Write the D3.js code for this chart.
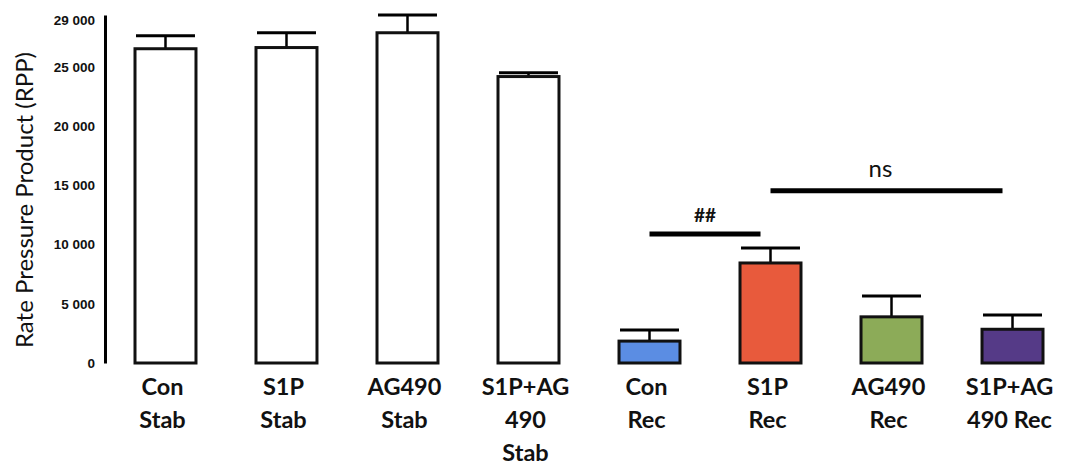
<!DOCTYPE html>
<html>
<head>
<meta charset="utf-8">
<script src="https://cdn.jsdelivr.net/npm/d3@7"></script>
<style>
  body { margin: 0; background: #fff; }
  svg { display: block; font-family: Lato, "Open Sans", sans-serif; }
  .tick text { font-weight: bold; font-size: 13.5px; fill: #111; }
  .cat { font-weight: bold; font-size: 23.5px; fill: #111; }
</style>
</head>
<body>
<div id="chart"></div>
<script>
// Data
const categories = ["Con Stab", "S1P Stab", "AG490 Stab", "S1P+AG490 Stab",
                    "Con Rec", "S1P Rec", "AG490 Rec", "S1P+AG490 Rec"];
const catLabels = [["Con", "Stab"], ["S1P", "Stab"], ["AG490", "Stab"], ["S1P+AG", "490", "Stab"],
                   ["Con", "Rec"], ["S1P", "Rec"], ["AG490", "Rec"], ["S1P+AG", "490 Rec"]];
const means = [26550, 26650, 27900, 24200, 1850, 8450, 3900, 2850];
const errors = [1100, 1250, 1500, 330, 930, 1270, 1770, 1200];
const colors = ["#fff", "#fff", "#fff", "#fff", "#5b8de3", "#e85a3c", "#8cab58", "#553a87"];
const tickValues = [0, 5000, 10000, 15000, 20000, 25000, 29000];
const brackets = [
    {from: "Con Rec", to: "S1P Rec", y: 10900, label: "##"},
    {from: "S1P Rec", to: "S1P+AG490 Rec", y: 14550, label: "ns"}
];

const width = 1069, height = 466;
const margin = {top: 15, right: 26, bottom: 103, left: 105};

const svg = d3.select("#chart")
    .append("svg")
    .attr("width", width)
    .attr("height", height);

const x = d3.scaleBand()
    .domain(categories)
    .range([135, 1043])
    .paddingInner(0.496)
    .paddingOuter(0);

const y = d3.scaleLinear()
    .domain([0, 29400])
    .range([height - margin.bottom, margin.top]);

// y axis
const yAxis = d3.axisLeft(y)
    .tickValues(tickValues)
    .tickSize(0)
    .tickPadding(10)
    .tickFormat(d => d3.format(",")(d).replace(/,/g, " "));

const gy = svg.append("g")
    .attr("transform", "translate(" + margin.left + ",0)")
    .call(yAxis);
gy.select(".domain").attr("stroke", "#000").attr("stroke-width", 3);

svg.append("text")
    .attr("transform", "translate(33," + 200 + ") rotate(-90)")
    .attr("text-anchor", "middle")
    .attr("font-size", "24px")
    .attr("fill", "#111")
    .text("Rate Pressure Product (RPP)");

// error bars (drawn first, bar covers the stem)
const eb = svg.append("g").selectAll("g")
    .data(categories)
    .enter()
    .append("g");

eb.append("line")
    .attr("x1", d => x(d) + x.bandwidth() / 2)
    .attr("x2", d => x(d) + x.bandwidth() / 2)
    .attr("y1", (d, i) => y(means[i]))
    .attr("y2", (d, i) => y(means[i] + errors[i]))
    .attr("stroke", "#000")
    .attr("stroke-width", 2.5);

eb.append("line")
    .attr("x1", d => x(d) + 1)
    .attr("x2", d => x(d) + x.bandwidth() - 1)
    .attr("y1", (d, i) => y(means[i] + errors[i]))
    .attr("y2", (d, i) => y(means[i] + errors[i]))
    .attr("stroke", "#000")
    .attr("stroke-width", 3);

// bars
svg.append("g").selectAll("rect")
    .data(categories)
    .enter()
    .append("rect")
    .attr("x", d => x(d))
    .attr("y", (d, i) => y(means[i]))
    .attr("width", x.bandwidth())
    .attr("height", (d, i) => y(0) - y(means[i]))
    .attr("fill", (d, i) => colors[i])
    .attr("stroke", "#111")
    .attr("stroke-width", 3);

// category labels
const labels = svg.append("g").selectAll("text")
    .data(categories)
    .enter()
    .append("text")
    .attr("class", "cat")
    .attr("text-anchor", "middle")
    .attr("x", d => x(d) + x.bandwidth() / 2 - 3)
    .attr("y", 395);

labels.selectAll("tspan")
    .data((d, i) => catLabels[i])
    .enter()
    .append("tspan")
    .attr("x", function () { return this.parentNode.getAttribute("x"); })
    .attr("dy", (d, i) => i === 0 ? 0 : 33)
    .text(d => d);

// significance brackets
const sig = svg.append("g").selectAll("g")
    .data(brackets)
    .enter()
    .append("g");

sig.append("line")
    .attr("x1", d => x(d.from) + x.bandwidth() / 2)
    .attr("x2", d => x(d.to) + x.bandwidth() / 2 - 10)
    .attr("y1", d => y(d.y))
    .attr("y2", d => y(d.y))
    .attr("stroke", "#000")
    .attr("stroke-width", 5);

sig.append("text")
    .attr("x", d => (x(d.from) + x(d.to) + x.bandwidth() - 10) / 2 - (d.label === "ns" ? 6 : 0))
    .attr("y", d => d.label === "##" ? y(d.y) - 12 : y(d.y) - 14)
    .attr("text-anchor", "middle")
    .attr("font-size", d => d.label === "##" ? "19px" : "24px")
    .attr("font-weight", d => d.label === "##" ? "bold" : "normal")
    .attr("fill", "#111")
    .text(d => d.label);
</script>
</body>
</html>
